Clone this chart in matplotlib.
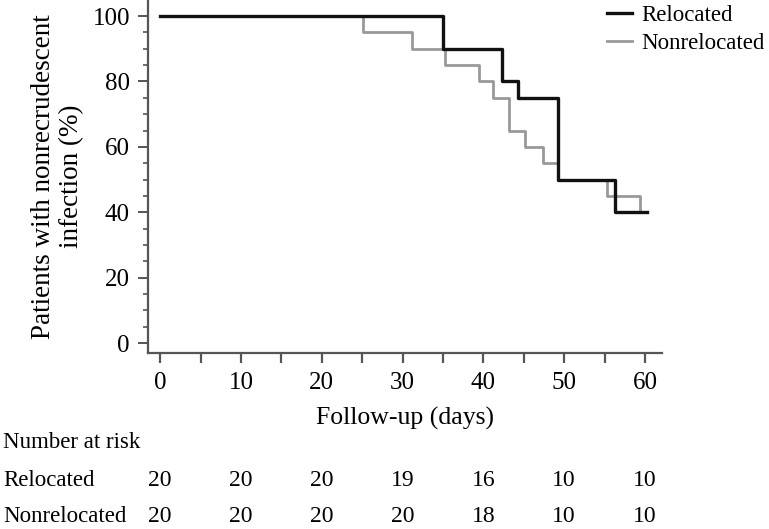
import matplotlib
matplotlib.use("Agg")
import matplotlib.pyplot as plt
from matplotlib.transforms import blended_transform_factory
from matplotlib.ticker import MultipleLocator

plt.rcParams["font.family"] = ["Liberation Serif", "DejaVu Serif"]
plt.rcParams["font.size"] = 18

# Kaplan-Meier steps
rel_days = [0, 35, 42.3, 44.3, 49.2, 56.3, 60.2]
rel_pct = [100, 90, 80, 75, 50, 40, 40]
non_days = [0, 25.1, 31.2, 35.2, 39.4, 41.2, 43.2, 45.2, 47.4, 49.2, 55.3, 59.4, 60.2]
non_pct = [100, 95, 90, 85, 80, 75, 65, 60, 55, 50, 45, 40, 40]

# number at risk table
risk_days = [0, 10, 20, 30, 40, 50, 60]
risk_rel = [20, 20, 20, 19, 16, 10, 10]
risk_non = [20, 20, 20, 20, 18, 10, 10]

spine_col = "#555555"

fig = plt.figure(figsize=(7.69, 5.29), dpi=100)
ax = fig.add_axes([148 / 769, 1 - 353 / 529, (662 - 148) / 769, 353 / 529])

ax.step(non_days, non_pct, where="post", color="#999999", lw=2.0, label="Nonrelocated")
ax.step(rel_days, rel_pct, where="post", color="#111111", lw=2.4, label="Relocated")

ax.set_xlim(-1.5, 62.1)
ax.set_ylim(-3.0, 104.9)

ax.xaxis.set_major_locator(MultipleLocator(10))
ax.xaxis.set_minor_locator(MultipleLocator(5))
ax.yaxis.set_major_locator(MultipleLocator(20))
ax.yaxis.set_minor_locator(MultipleLocator(5))

for s in ["top", "right"]:
    ax.spines[s].set_visible(False)
for s in ["left", "bottom"]:
    ax.spines[s].set_color(spine_col)
    ax.spines[s].set_linewidth(1.6)

ax.tick_params(axis="x", which="both", length=7, width=1.6, color=spine_col, pad=7)
ax.tick_params(axis="y", which="major", length=7, width=1.4, color=spine_col, pad=6)
ax.tick_params(axis="y", which="minor", length=3.5, width=1.2, color=spine_col)

ax.set_xlabel("Follow-up (days)", labelpad=9, fontsize=18.5)
ax.set_ylabel("Patients with nonrecrudescent\ninfection (%)", labelpad=6,
              linespacing=1.15, fontsize=19.5)

handles, labels = ax.get_legend_handles_labels()
leg = ax.legend(handles[::-1], labels[::-1], loc="upper left", fontsize=16.5,
                bbox_to_anchor=(607 / 769, 1 - 5 / 529), bbox_transform=fig.transFigure,
                frameon=False, borderpad=0, borderaxespad=0, handlelength=1.1,
                handletextpad=0.4, labelspacing=0.3)

# number at risk
trans = blended_transform_factory(ax.transData, fig.transFigure)
fig.text(3 / 769, 1 - 443 / 529, "Number at risk", ha="left", va="center", fontsize=16.5)
fig.text(3 / 769, 1 - 481 / 529, "Relocated", ha="left", va="center", fontsize=16.5)
fig.text(3 / 769, 1 - 517 / 529, "Nonrelocated", ha="left", va="center", fontsize=16.5)
for d, r, n in zip(risk_days, risk_rel, risk_non):
    ax.text(d, 1 - 481 / 529, str(r), transform=trans, ha="center", va="center", fontsize=17)
    ax.text(d, 1 - 517 / 529, str(n), transform=trans, ha="center", va="center", fontsize=17)

fig.savefig("out.png", dpi=100)
